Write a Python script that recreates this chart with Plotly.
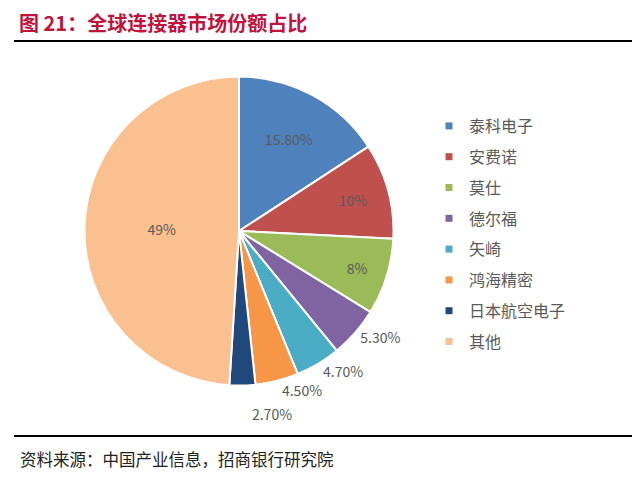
import plotly.graph_objects as go

# 数据
labels = ["泰科电子", "安费诺", "莫仕", "德尔福", "矢崎", "鸿海精密", "日本航空电子", "其他"]
shares = [15.8, 10, 8, 5.3, 4.7, 4.5, 2.7, 49]
share_text = ["15.80%", "10%", "8%", "5.30%", "4.70%", "4.50%", "2.70%", "49%"]
colors = ["#4F81BD", "#C0504D", "#9BBB59", "#8064A2", "#4BACC6", "#F79646", "#1F497D", "#FAC090"]
# 外侧标签分两层画，避免 plotly 自动挪位加引线
layer_a = ["inside", "inside", "inside", "outside", "none", "outside", "none", "inside"]
layer_b = ["none", "none", "none", "none", "outside", "none", "outside", "none"]

W, H = 640, 484
OFF = 8  # 页面 body 自带的边距
font = "Noto Sans CJK SC"
txt_color = "#595959"


def px_x(x):
    return (x - OFF) / W


def px_y(y):
    return 1 - (y - OFF) / H


domain = dict(x=[px_x(84.5), px_x(393.5)], y=[px_y(385.5), px_y(76.5)])

# 2.70% 往下挪一行，免得和 4.50% 叠在一起
text_b = ["\u00a0<br>" + t if t == "2.70%" else t for t in share_text]

fig = go.Figure()
fig.add_trace(go.Pie(
    labels=labels, values=shares, text=share_text,
    textinfo="text", textposition=layer_a,
    sort=False, direction="clockwise", rotation=0,
    marker=dict(colors=colors, line=dict(color="white", width=2)),
    textfont=dict(family=font, size=14, color=txt_color),
    insidetextorientation="horizontal",
    domain=domain, showlegend=False,
    hoverinfo="label+percent",
))
fig.add_trace(go.Pie(
    labels=labels, values=shares, text=text_b,
    textinfo="text", textposition=layer_b,
    sort=False, direction="clockwise", rotation=0,
    marker=dict(colors=["rgba(0,0,0,0)"] * len(labels), line=dict(width=0)),
    textfont=dict(family=font, size=14, color=txt_color),
    domain=domain, showlegend=False, hoverinfo="skip",
))

# 图例
for name, c in zip(labels, colors):
    fig.add_trace(go.Scatter(
        x=[None], y=[None], mode="markers", name=name, legendgroup=name,
        marker=dict(symbol="square", size=7, color=c),
    ))

fig.update_layout(
    width=W, height=H,
    margin=dict(l=0, r=0, t=0, b=0),
    paper_bgcolor="white", plot_bgcolor="white",
    font=dict(family=font, color=txt_color),
    xaxis=dict(visible=False), yaxis=dict(visible=False),
    legend=dict(x=px_x(429), y=px_y(109), xanchor="left", yanchor="top",
                font=dict(size=16, color=txt_color), itemwidth=30,
                tracegroupgap=7, traceorder="grouped"),
    shapes=[
        dict(type="line", xref="paper", yref="paper", x0=px_x(14), x1=1,
             y0=px_y(41), y1=px_y(41), line=dict(color="black", width=2)),
        dict(type="line", xref="paper", yref="paper", x0=px_x(14), x1=1,
             y0=px_y(436), y1=px_y(436), line=dict(color="black", width=2)),
    ],
    annotations=[
        dict(text="<b>图 21：全球连接器市场份额占比</b>", xref="paper", yref="paper",
             x=px_x(18), y=px_y(22), xanchor="left", yanchor="middle", showarrow=False,
             borderpad=0, font=dict(family=font, size=20, color="#C0143C")),
        dict(text="资料来源：中国产业信息，招商银行研究院", xref="paper", yref="paper",
             x=px_x(18), y=px_y(459), xanchor="left", yanchor="middle", showarrow=False,
             font=dict(family=font, size=16.5, color="#222222")),
    ],
)

fig.write_html("out.html")
